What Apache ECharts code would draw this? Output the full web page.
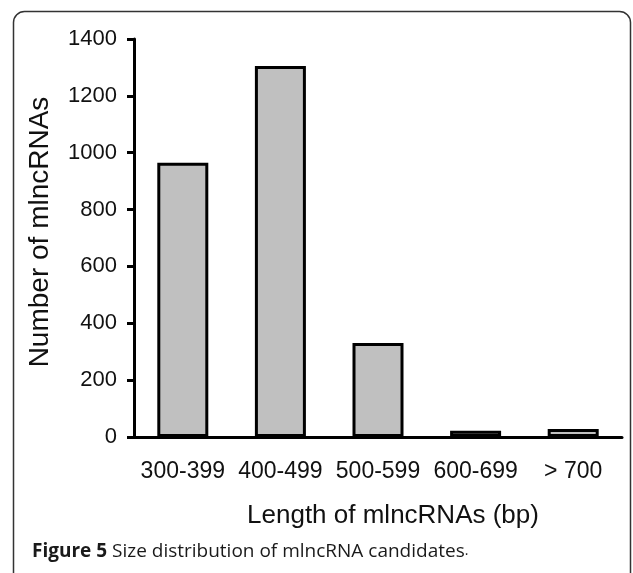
<!DOCTYPE html>
<html>
<head>
<meta charset="utf-8">
<script src="https://cdn.jsdelivr.net/npm/echarts@6/dist/echarts.min.js"></script>
<style>
html,body{margin:0;padding:0;background:#fff;}
#chart{width:633px;height:573px;}
</style>
</head>
<body>
<div id="chart"></div>
<script>
const categories = ['300-399', '400-499', '500-599', '600-699', '> 700'];
const counts = [965, 1305, 331, 22, 28];
const yTicks = { min: 0, max: 1400, interval: 200 };
const xTitle = 'Length of mlncRNAs (bp)';
const yTitle = 'Number of mlncRNAs';

const chart = echarts.init(document.getElementById('chart'));
const axisFont = 'Liberation Sans, Arial, sans-serif';
chart.setOption({
  animation: false,
  backgroundColor: '#fff',
  grid: { left: 134, right: 11, top: 39, bottom: 136 },
  xAxis: {
    type: 'category',
    data: categories,
    name: xTitle,
    nameLocation: 'middle',
    nameGap: 66,
    nameTextStyle: { fontFamily: axisFont, fontSize: 26, color: '#111', padding: [0, 0, 0, 30] },
    axisLine: { lineStyle: { color: '#000', width: 3 } },
    axisTick: { show: false },
    axisLabel: { fontFamily: axisFont, fontSize: 23, color: '#111', margin: 23, interval: 0 }
  },
  yAxis: {
    type: 'value',
    min: yTicks.min, max: yTicks.max, interval: yTicks.interval,
    name: yTitle,
    nameLocation: 'middle',
    nameGap: 80,
    nameTextStyle: { fontFamily: axisFont, fontSize: 28, color: '#111', padding: [0, 0, 0, 12] },
    axisLine: { show: true, lineStyle: { color: '#000', width: 3 } },
    axisTick: { show: true, length: 7, lineStyle: { color: '#000', width: 3 } },
    axisLabel: { fontFamily: axisFont, fontSize: 22, color: '#111', margin: 17, formatter: v => String(v) },
    splitLine: { show: false }
  },
  series: [{
    type: 'bar',
    data: counts,
    barWidth: 51,
    itemStyle: { color: '#c0c0c0', borderColor: '#000', borderWidth: 3 }
  }],
  graphic: [
    {
      type: 'rect',
      shape: { x: 13.5, y: 11.5, width: 617, height: 620, r: 11 },
      style: { fill: 'none', stroke: '#333', lineWidth: 1.5 },
      z: 10
    },
    {
      type: 'text',
      left: 32,
      top: 542,
      style: {
        text: '{b|Figure 5} {n|Size distribution of mlncRNA candidates}{s|.}',
        rich: {
          b: { fontFamily: 'Open Sans, sans-serif', fontWeight: 'bold', fontSize: 19, fill: '#1a1a1a' },
          n: { fontFamily: 'Open Sans, sans-serif', fontSize: 19, fill: '#1a1a1a' },
          s: { fontFamily: 'Open Sans, sans-serif', fontSize: 14, fill: '#1a1a1a' }
        },
        font: '19px Open Sans'
      }
    }
  ]
});
</script>
</body>
</html>
